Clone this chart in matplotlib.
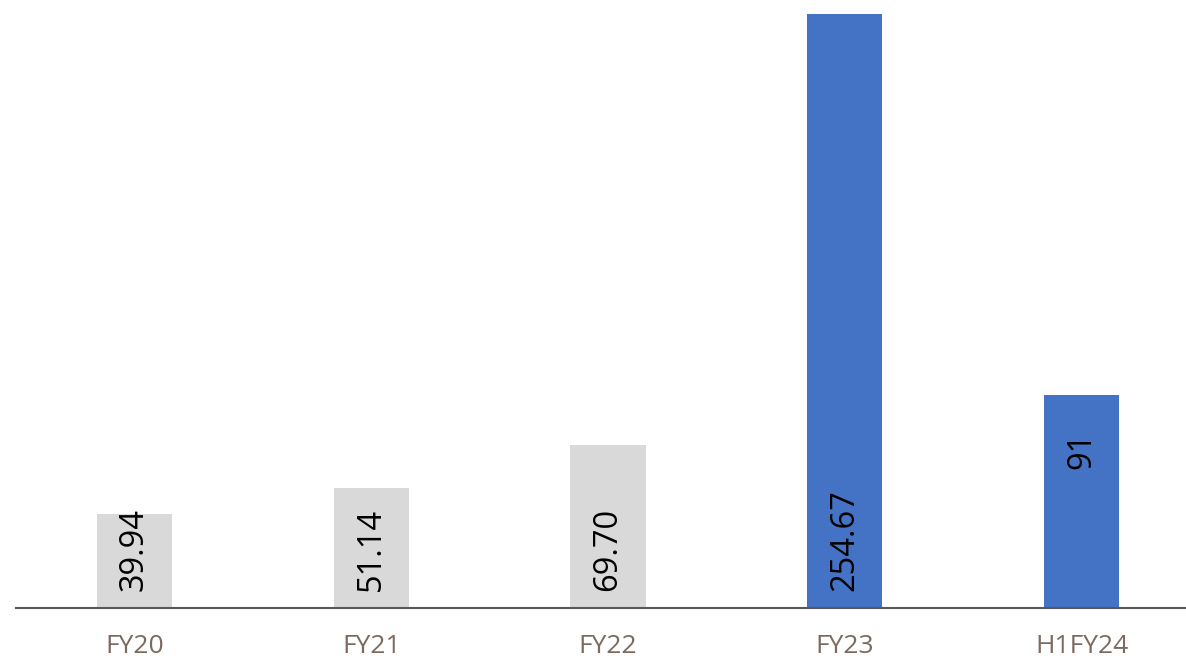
import matplotlib.pyplot as plt
import numpy as np

# Данные
categories = ['FY20', 'FY21', 'FY22', 'FY23', 'H1FY24']
values = [39.94, 51.14, 69.70, 254.67, 91]
labels = ['39.94', '51.14', '69.70', '254.67', '91']
bar_colors = ['#D9D9D9', '#D9D9D9', '#D9D9D9', '#4472C4', '#4472C4']

plt.rcParams['font.family'] = ['Open Sans', 'DejaVu Sans']

fig = plt.figure(figsize=(11.86, 6.62), dpi=100)
# оси: от 16 до ~1200 px по x, база на 607.5 px сверху
ax = fig.add_axes([16 / 1186, (662 - 607.5) / 662, 1184 / 1186, 607.5 / 662])

x = np.arange(len(categories))
ax.bar(x, values, width=0.317, color=bar_colors)
ax.set_xlim(-0.5, len(categories) - 0.5)
ax.set_ylim(0, 260.7)

# подписи значений внутри столбцов (повёрнутые)
for i, (v, lab) in enumerate(zip(values, labels)):
    if categories[i] == 'H1FY24':
        ax.annotate(lab, (i, v), xytext=(0, -26), textcoords='offset points',
                    rotation=90, ha='center', va='top', fontsize=23.5, color='black')
    else:
        ax.annotate(lab, (i, 0), xytext=(0, 12), textcoords='offset points',
                    rotation=90, ha='center', va='bottom', fontsize=23.5, color='black')

ax.set_xticks(x)
ax.set_xticklabels(categories, fontsize=19, color='#7A6A60')
ax.tick_params(axis='x', length=0, pad=19)
ax.set_yticks([])
for side in ['top', 'right', 'left']:
    ax.spines[side].set_visible(False)
ax.spines['bottom'].set_color('#595959')
ax.spines['bottom'].set_linewidth(1.5)

fig.savefig('out.png', dpi=100)
